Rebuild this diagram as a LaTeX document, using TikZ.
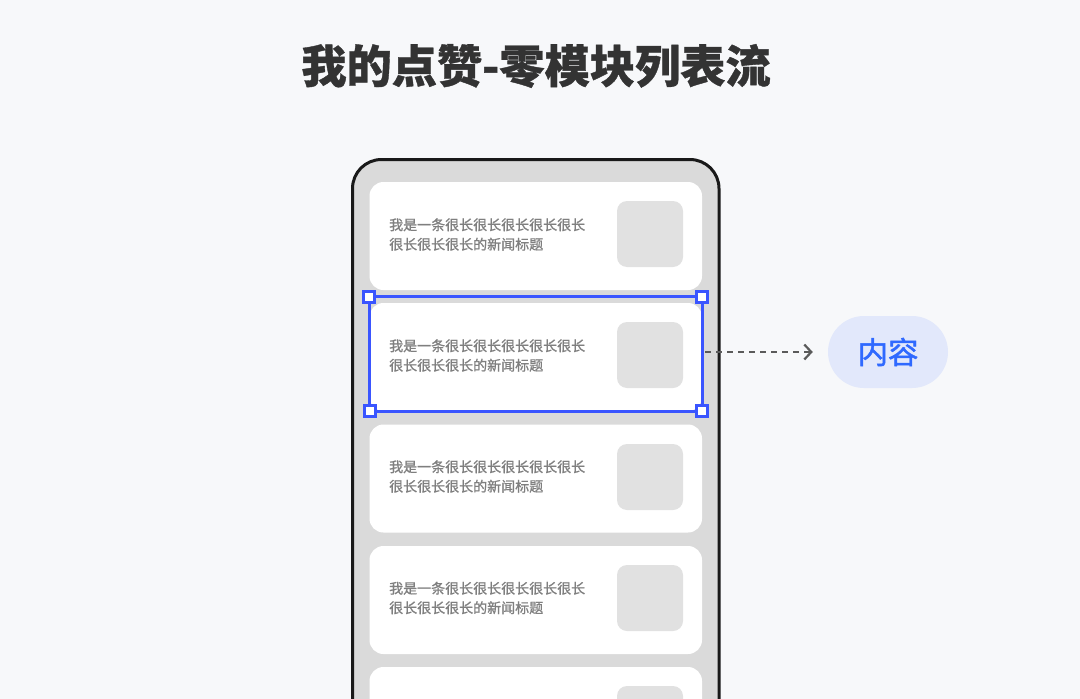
\documentclass[tikz,border=0pt]{standalone}
\usepackage{fontspec}
\usetikzlibrary{arrows.meta}
\setmainfont{Noto Sans CJK SC}
\newfontfamily\titlefont[FakeBold=0.8]{Noto Sans CJK SC Black}
\newfontfamily\bodyfont[FakeBold=0.9]{Noto Sans CJK SC}
\newfontfamily\pillfont[FakeBold=1.5]{Noto Sans CJK SC}
\definecolor{pagebg}{HTML}{F7F8FA}
\definecolor{phonefill}{HTML}{DADADA}
\definecolor{thumbfill}{HTML}{E1E1E1}
\definecolor{selblue}{HTML}{3A55FF}
\definecolor{pillfill}{HTML}{E2E8FB}
\definecolor{pilltext}{HTML}{2F69FF}
\definecolor{bodygray}{HTML}{7F7F7F}
\definecolor{titlegray}{HTML}{333333}
\definecolor{arrowgray}{HTML}{5A5A5A}
\tikzset{
  x=1pt,y=-1pt,
  phonebox/.style={draw=black!90,line width=3pt,fill=phonefill,rounded corners=29pt},
  cardbox/.style={fill=white,rounded corners=14pt,inner sep=0pt,minimum width=332.5pt,minimum height=108pt},
  thumbbox/.style={fill=thumbfill,rounded corners=10pt,inner sep=0pt,minimum width=66pt,minimum height=66pt},
  cardtext/.style={anchor=west,inner sep=0pt,align=left,text=bodygray,font=\bodyfont\fontsize{14pt}{19.5pt}\selectfont},
  selbox/.style={draw=selblue,line width=3pt,inner sep=0pt,minimum width=333pt,minimum height=115pt},
  handlebox/.style={draw=selblue,line width=3pt,fill=white,inner sep=0pt,minimum size=11pt},
  pillbox/.style={fill=pillfill,rounded corners=36pt,inner sep=0pt,minimum width=120pt,minimum height=72pt,text=pilltext,font=\pillfont\fontsize{30.5pt}{32pt}\selectfont},
  linkline/.style={draw=arrowgray,line width=1.7pt,dash pattern=on 6pt off 5pt,-{Straight Barb[length=7pt,width=15pt,line width=2.2pt]}}
}
\begin{document}
\begin{tikzpicture}
\useasboundingbox (0,0) rectangle (1080,699);
\fill[pagebg] (0,0) rectangle (1080,699);
\clip (0,0) rectangle (1080,699);
\node[inner sep=0pt,text=titlegray,font=\titlefont\fontsize{45.2pt}{48pt}\selectfont] (title) at (536,66) {我的点赞-零模块列表流};
\draw[phonebox] (352.5,780) -- (352.5,159.5) -- (719,159.5) -- (719,780);
\node[cardbox] (c1) at (535.75,236) {};
\node[cardbox] (c2) at (535.75,357) {};
\node[cardbox] (c3) at (535.75,478.5) {};
\node[cardbox] (c4) at (535.75,600) {};
\node[cardbox] (c5) at (535.75,721) {};
\node[thumbbox] (t1) at (650,234) {};
\node[thumbbox] (t2) at (650,355) {};
\node[thumbbox] (t3) at (650,477) {};
\node[thumbbox] (t4) at (650,598) {};
\node[thumbbox] (t5) at (650,719) {};
\node[cardtext] (x1) at (389,234.5) {我是一条很长很长很长很长很长\\很长很长很长的新闻标题};
\node[cardtext] (x2) at (389,355.5) {我是一条很长很长很长很长很长\\很长很长很长的新闻标题};
\node[cardtext] (x3) at (389,476.5) {我是一条很长很长很长很长很长\\很长很长很长的新闻标题};
\node[cardtext] (x4) at (389,598) {我是一条很长很长很长很长很长\\很长很长很长的新闻标题};
\node[selbox] (sel) at (535.75,353.5) {};
\node[handlebox] (h1) at (368.5,296.5) {};
\node[handlebox] (h2) at (701.5,296.5) {};
\node[handlebox] (h3) at (369.5,411) {};
\node[handlebox] (h4) at (701.5,411) {};
\node[pillbox] (pill) at (888,352) {内容};
\coordinate (linkstart) at (705,352);
\draw[linkline,shorten >=15pt] (linkstart) -- (pill.west);
\end{tikzpicture}
\end{document}
